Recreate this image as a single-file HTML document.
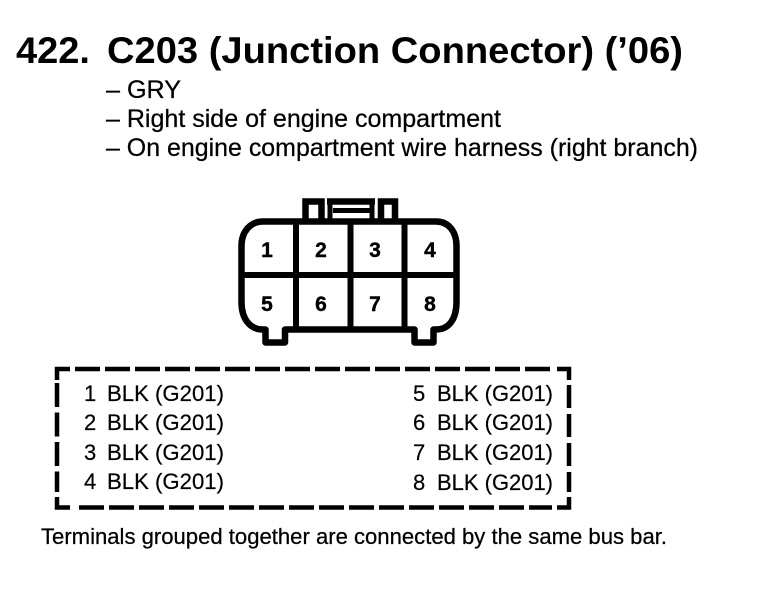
<!DOCTYPE html>
<html><head><meta charset="utf-8"><style>
html,body{margin:0;padding:0;background:#fff}
svg{display:block}
text{font-family:"Liberation Sans",Arial,sans-serif;fill:#000}
.t{font-size:37px;font-weight:bold}
.l{font-size:25px;stroke:#000;stroke-width:.25px}
.n{font-size:21px;font-weight:bold;text-anchor:middle;stroke:#000;stroke-width:.4px}
.r{font-size:22px;stroke:#000;stroke-width:.2px}
.f{font-size:22.5px;stroke:#000;stroke-width:.25px}
</style></head><body>
<svg width="768" height="608" viewBox="0 0 768 608" xmlns="http://www.w3.org/2000/svg">
<rect width="768" height="608" fill="#fff"/>
<text class="t" x="16" y="63" textLength="74" lengthAdjust="spacingAndGlyphs">422.</text>
<text class="t" x="107" y="63" textLength="576" lengthAdjust="spacingAndGlyphs">C203 (Junction Connector) (’06)</text>
<text class="l" x="106" y="98" textLength="75" lengthAdjust="spacingAndGlyphs">– GRY</text>
<text class="l" x="106" y="127" textLength="395" lengthAdjust="spacingAndGlyphs">– Right side of engine compartment</text>
<text class="l" x="106" y="156" textLength="592" lengthAdjust="spacingAndGlyphs">– On engine compartment wire harness (right branch)</text>

<g fill="none" stroke="#000" stroke-width="6.500">
<path d="M305.500 220V201.500H321.500V220"/>
<path d="M381 220V201.500H395V220"/>
<path d="M327 201.500H375" />
<path d="M330 201V220M372 201V220" stroke-width="5"/>
<path d="M333 210.500H370" stroke-width="5"/>
<path d="M263 221.500H436C449 221.500 456.500 232 456.500 246V302C456.500 319 449 329.500 436 329.500H433.500V342.500H414.500V329.500H285V342.500H265.500V329.500H263C250 329.500 241.500 319 241.500 302V246C241.500 232 250 221.500 263 221.500Z" stroke-linejoin="round"/>
<path d="M296 221V329M350.500 221V329M404.500 221V329M241 275H457" stroke-width="6"/>
</g>
<text class="n" x="267" y="257">1</text>
<text class="n" x="321" y="257">2</text>
<text class="n" x="375" y="257">3</text>
<text class="n" x="430" y="257">4</text>
<text class="n" x="267" y="311">5</text>
<text class="n" x="321" y="311">6</text>
<text class="n" x="375" y="311">7</text>
<text class="n" x="430" y="311">8</text>

<g fill="none" stroke="#000" stroke-width="4.500">
<path d="M57 380V369H70"/>
<path d="M75 369H552" stroke-dasharray="25 5"/>
<path d="M557 369H569V380"/>
<path d="M569 385V492" stroke-dasharray="23 6"/>
<path d="M569 497V507.500H557"/>
<path d="M552 507.500H75" stroke-dasharray="25 5" stroke-dashoffset="2"/>
<path d="M70 507.500H57V497"/>
<path d="M57 383V492" stroke-dasharray="24 5.500"/>
</g>
<text class="r" x="84" y="401">1</text><text class="r" x="107" y="401" textLength="117" lengthAdjust="spacingAndGlyphs">BLK (G201)</text>
<text class="r" x="84" y="430">2</text><text class="r" x="107" y="430" textLength="117" lengthAdjust="spacingAndGlyphs">BLK (G201)</text>
<text class="r" x="84" y="460">3</text><text class="r" x="107" y="460" textLength="117" lengthAdjust="spacingAndGlyphs">BLK (G201)</text>
<text class="r" x="84" y="489">4</text><text class="r" x="107" y="489" textLength="117" lengthAdjust="spacingAndGlyphs">BLK (G201)</text>
<text class="r" x="413" y="401">5</text><text class="r" x="437" y="401" textLength="116" lengthAdjust="spacingAndGlyphs">BLK (G201)</text>
<text class="r" x="413" y="430">6</text><text class="r" x="437" y="430" textLength="116" lengthAdjust="spacingAndGlyphs">BLK (G201)</text>
<text class="r" x="413" y="460">7</text><text class="r" x="437" y="460" textLength="116" lengthAdjust="spacingAndGlyphs">BLK (G201)</text>
<text class="r" x="413" y="490">8</text><text class="r" x="437" y="490" textLength="116" lengthAdjust="spacingAndGlyphs">BLK (G201)</text>
<text class="f" x="41" y="544" textLength="626" lengthAdjust="spacingAndGlyphs">Terminals grouped together are connected by the same bus bar.</text>
</svg>
</body></html>
